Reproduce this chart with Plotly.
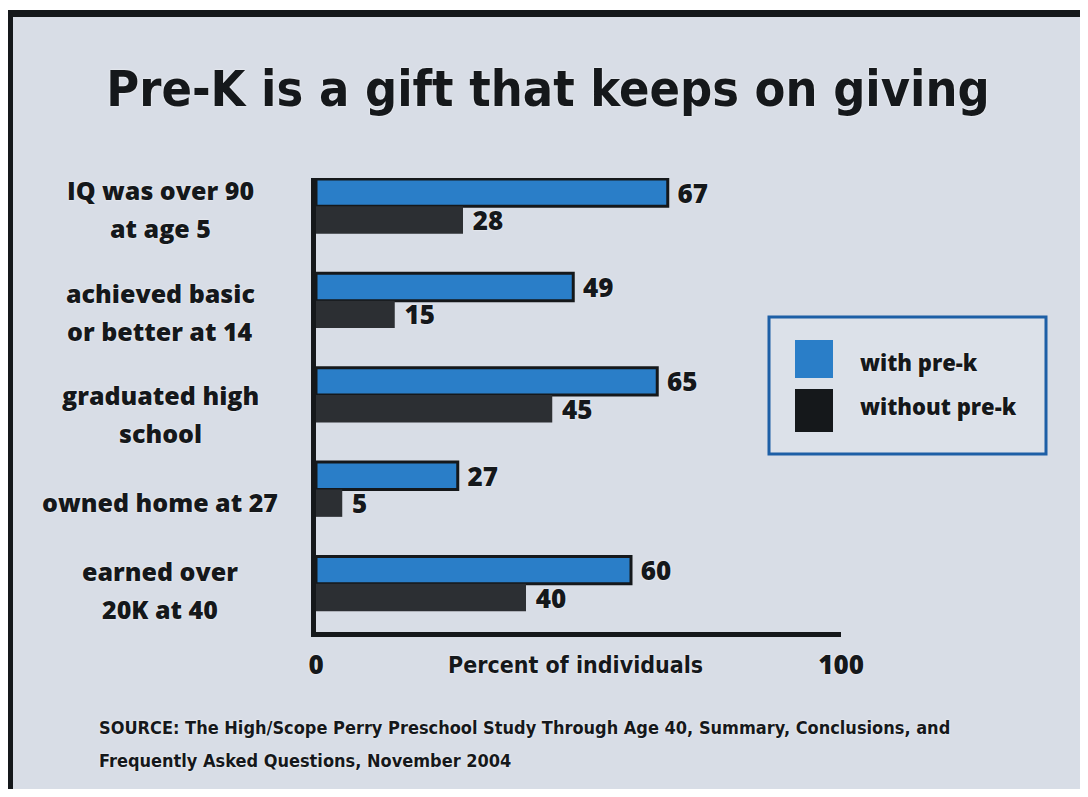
import plotly.graph_objects as go

# ---- data ----
categories = ["IQ was over 90<br>at age 5",
              "achieved basic<br>or better at 14",
              "graduated high<br>school",
              "owned home at 27",
              "earned over<br>20K at 40"]
with_prek = [67, 49, 65, 27, 60]
without_prek = [28, 15, 45, 5, 40]
series_names = ["with pre-k", "without pre-k"]
x_tick_vals = [0, 100]
x_tick_text = ["0", "100"]
title_text = "Pre-K is a gift that keeps on giving"
axis_label = "Percent of individuals"
source_lines = ["SOURCE: The High/Scope Perry Preschool Study Through Age 40, Summary, Conclusions, and",
                "Frequently Asked Questions, November 2004"]

# ---- layout geometry (reference pixels; page has an 8px body margin) ----
OFF = 8
W, H = 1088, 797
FW, FH = W - OFF, H - OFF
L, R_PX = 316, 841
T, B_PX = 178, 632
PW, PH = R_PX - L, B_PX - T
LABEL_DY = [-3, -11, -19, -13, -6]   # vertical nudges of the category labels (px)

def px(x):
    return (x - L) / PW

def py(y):
    return (B_PX - y) / PH

BG = "#d8dde6"
BLUE = "#2a7ec8"
DARK = "#2c2f33"
INK = "#15181b"
COND = "DejaVu Sans Condensed, Roboto, sans-serif"
HUM = "Open Sans"
HALO = "0px 0px 2px #ffffff"

fig = go.Figure()
fig.add_trace(go.Bar(
    y=categories, x=with_prek, orientation="h", name=series_names[0],
    marker=dict(color=BLUE, line=dict(color=INK, width=3)),
    text=with_prek, texttemplate=" %{x}", textposition="outside",
    constraintext="none", cliponaxis=False,
    textfont=dict(family=HUM, size=26, color=INK, weight=800, shadow=HALO),
    showlegend=False))
fig.add_trace(go.Bar(
    y=categories, x=without_prek, orientation="h", name=series_names[1],
    marker=dict(color=DARK, line=dict(color=DARK, width=0)),
    text=without_prek, texttemplate=" %{x}", textposition="outside",
    constraintext="none", cliponaxis=False,
    textfont=dict(family=HUM, size=26, color=INK, weight=800, shadow=HALO),
    showlegend=False))

annotations = []
# category labels (each line placed separately for the wider line spacing)
LINE_GAP = 38
for c, dy in zip(categories, LABEL_DY):
    lines = c.split("<br>")
    n = len(lines)
    for i, ln in enumerate(lines):
        shift = dy - (i - (n - 1) / 2) * LINE_GAP
        annotations.append(dict(
            x=px(160), xref="paper", y=c, yref="y", yshift=shift,
            text=ln, showarrow=False, xanchor="center", yanchor="middle",
            font=dict(family=HUM, size=25, color=INK, weight=800, shadow=HALO)))
# axis label
annotations.append(dict(
    x=px(575), y=py(665), xref="paper", yref="paper", text=axis_label,
    showarrow=False, xanchor="center", yanchor="middle",
    font=dict(family=COND, size=23, color=INK, weight=700, shadow=HALO)))
# source lines
for i, s in enumerate(source_lines):
    annotations.append(dict(
        x=px(97), y=py(727 + 33 * i), xref="paper", yref="paper", text=s,
        showarrow=False, xanchor="left", yanchor="middle",
        font=dict(family=COND, size=18, color=INK, weight=700, shadow=HALO)))
# legend text
leg_y = [362, 406]
for name, yy in zip(series_names, leg_y):
    annotations.append(dict(
        x=px(858), y=py(yy), xref="paper", yref="paper", text=name,
        showarrow=False, xanchor="left", yanchor="middle",
        font=dict(family=HUM, size=22, color=INK, weight=800, shadow=HALO)))

shapes = [
    # white margins and black frame
    dict(type="rect", xref="paper", yref="paper", x0=px(0), x1=px(W + 20), y0=py(-20), y1=py(10),
         fillcolor="white", line=dict(width=0), layer="below"),
    dict(type="rect", xref="paper", yref="paper", x0=px(-20), x1=px(7), y0=py(-20), y1=py(H + 20),
         fillcolor="white", line=dict(width=0), layer="below"),
    dict(type="rect", xref="paper", yref="paper", x0=px(-20), x1=px(W + 20), y0=py(789), y1=py(H + 20),
         fillcolor="white", line=dict(width=0), layer="below"),
    dict(type="rect", xref="paper", yref="paper", x0=px(7), x1=px(W + 20), y0=py(10), y1=py(17),
         fillcolor=INK, line=dict(width=0)),
    dict(type="rect", xref="paper", yref="paper", x0=px(7), x1=px(13), y0=py(10), y1=py(789),
         fillcolor=INK, line=dict(width=0)),
    # legend box
    dict(type="rect", xref="paper", yref="paper", x0=px(769), x1=px(1046), y0=py(317), y1=py(454),
         fillcolor="#dce1e9", line=dict(color="#1d5fa6", width=3)),
    dict(type="rect", xref="paper", yref="paper", x0=px(795), x1=px(833), y0=py(340), y1=py(378),
         fillcolor=BLUE, line=dict(width=0)),
    dict(type="rect", xref="paper", yref="paper", x0=px(795), x1=px(833), y0=py(389), y1=py(432),
         fillcolor=INK, line=dict(width=0)),
]

fig.update_layout(
    width=FW, height=FH,
    margin=dict(l=L - OFF, r=W - R_PX, t=T - OFF, b=H - B_PX, pad=0),
    paper_bgcolor=BG, plot_bgcolor=BG,
    barmode="group", bargap=0.42, bargroupgap=0.0,
    title=dict(text=title_text, x=(548 - OFF) / FW, xanchor="center",
               y=1 - (88 - OFF) / FH, yanchor="middle",
               font=dict(family=COND, size=50, color=INK, weight=700, shadow=HALO)),
    annotations=annotations, shapes=shapes, showlegend=False,
    xaxis=dict(range=[0, 100], tickvals=x_tick_vals, ticktext=x_tick_text,
               showgrid=False, zeroline=False, showline=True, linecolor=INK, linewidth=5,
               ticks="", ticklabelstandoff=6,
               tickfont=dict(family=HUM, size=26, color=INK, weight=800, shadow=HALO)),
    yaxis=dict(type="category", range=[4.51, -0.3], showticklabels=False,
               showgrid=False, zeroline=False, showline=True, linecolor=INK, linewidth=5,
               ticks=""),
)

fig.write_html("out.html")
